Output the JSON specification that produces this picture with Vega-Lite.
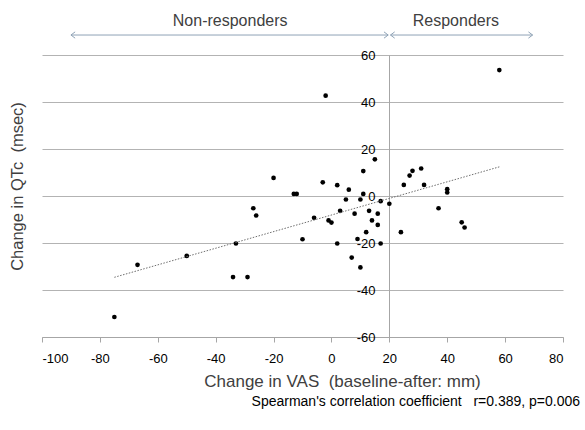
{
  "$schema": "https://vega.github.io/schema/vega-lite/v6.json",
  "width": 521,
  "height": 282,
  "autosize": {"type": "none"},
  "padding": {"left": 42, "top": 55, "right": 22, "bottom": 93},
  "background": "white",
  "config": {
    "view": {"stroke": null},
    "font": "Liberation Sans"
  },
  "datasets": {
    "points": [
      {"vas": -75, "qtc": -51.5},
      {"vas": -67, "qtc": -29.3},
      {"vas": -50, "qtc": -25.5},
      {"vas": -33, "qtc": -20.2},
      {"vas": -34, "qtc": -34.5},
      {"vas": -29, "qtc": -34.5},
      {"vas": -20, "qtc": 7.7},
      {"vas": -13, "qtc": 0.9},
      {"vas": -12, "qtc": 0.9},
      {"vas": -27, "qtc": -5.2},
      {"vas": -26, "qtc": -8.3},
      {"vas": -2, "qtc": 42.7},
      {"vas": 58, "qtc": 53.6},
      {"vas": 15, "qtc": 15.6},
      {"vas": 11, "qtc": 10.6},
      {"vas": -3, "qtc": 5.8},
      {"vas": 2, "qtc": 4.6},
      {"vas": 6, "qtc": 2.7},
      {"vas": 5, "qtc": -1.5},
      {"vas": 10, "qtc": -1.5},
      {"vas": 11, "qtc": 0.9},
      {"vas": 17, "qtc": -2.2},
      {"vas": 20, "qtc": -3.3},
      {"vas": 25, "qtc": 4.7},
      {"vas": 27, "qtc": 8.7},
      {"vas": 28, "qtc": 10.7},
      {"vas": 31, "qtc": 11.7},
      {"vas": 32, "qtc": 4.7},
      {"vas": 40, "qtc": 2.9},
      {"vas": 40, "qtc": 1.5},
      {"vas": 37, "qtc": -5.2},
      {"vas": 45, "qtc": -11.2},
      {"vas": 46, "qtc": -13.4},
      {"vas": 24, "qtc": -15.4},
      {"vas": -6, "qtc": -9.3},
      {"vas": -1, "qtc": -10.4},
      {"vas": 0, "qtc": -11.3},
      {"vas": 3, "qtc": -6.3},
      {"vas": 8, "qtc": -7.5},
      {"vas": 13, "qtc": -6.3},
      {"vas": 16, "qtc": -7.5},
      {"vas": 14, "qtc": -10.4},
      {"vas": 16, "qtc": -12.3},
      {"vas": 12, "qtc": -15.4},
      {"vas": 9, "qtc": -18.3},
      {"vas": -10, "qtc": -18.4},
      {"vas": 2, "qtc": -20.2},
      {"vas": 17, "qtc": -20.2},
      {"vas": 7, "qtc": -26.2},
      {"vas": 10, "qtc": -30.4}
    ],
    "trend": [
      {"vas": -75, "qtc": -34.6},
      {"vas": 58, "qtc": 12.4}
    ],
    "arrows": [
      {"vas": -90, "vas2": 19.6, "qtc": 68.5},
      {"vas": 20.4, "vas2": 69.5, "qtc": 68.5}
    ],
    "heads": [
      {"vas": -90, "qtc": 68.5, "dir": "left"},
      {"vas": 19.6, "qtc": 68.5, "dir": "right"},
      {"vas": 20.4, "qtc": 68.5, "dir": "left"},
      {"vas": 69.5, "qtc": 68.5, "dir": "right"}
    ],
    "groups": [
      {"vas": -35, "qtc": 74.5, "label": "Non-responders"},
      {"vas": 43, "qtc": 74.5, "label": "Responders"}
    ],
    "note": [
      {"vas": 85.9, "qtc": -87.7, "label": "Spearman's correlation coefficient \u00a0 r=0.389, p=0.006"}
    ]
  },
  "layer": [
    {
      "data": {"name": "points"},
      "mark": {"type": "circle", "size": 22, "color": "black", "opacity": 1},
      "encoding": {
        "x": {
          "field": "vas", "type": "quantitative",
          "scale": {"domain": [-100, 80], "nice": false, "zero": false},
          "axis": {
            "orient": "bottom",
            "values": [-100, -80, -60, -40, -20, 0, 20, 40, 60, 80],
            "labelExpr": "'' + datum.value",
            "grid": false,
            "domainColor": "#a6a6a6",
            "tickColor": "#a6a6a6",
            "tickSize": 5,
            "labelFontSize": 13,
            "labelColor": "#000000",
            "labelPadding": 10,
            "title": "Change in VAS \u00a0(baseline-after: mm)",
            "titleFontSize": 17,
            "titleFontWeight": "normal",
            "titleColor": "#404040",
            "titlePadding": 8,
            "titleX": 300
          }
        },
        "y": {
          "field": "qtc", "type": "quantitative",
          "scale": {"domain": [-60, 60], "nice": false, "zero": false},
          "axis": {
            "orient": "left",
            "offset": -347,
            "values": [-60, -40, -20, 0, 20, 40, 60],
            "labelExpr": "'' + datum.value",
            "grid": true,
            "gridColor": "#b3b3b3",
            "domainColor": "#a6a6a6",
            "ticks": false,
            "labelFontSize": 13,
            "labelColor": "#000000",
            "labelPadding": 14,
            "title": "Change in QTc \u00a0(msec)",
            "titleFontSize": 16.5,
            "titleFontWeight": "normal",
            "titleColor": "#404040",
            "titleAngle": -90,
            "titleBaseline": "middle",
            "titleAlign": "center",
            "titleX": -372,
            "titleY": 131
          }
        }
      }
    },
    {
      "data": {"name": "trend"},
      "mark": {"type": "line", "color": "#6e6e6e", "strokeWidth": 1, "strokeDash": [1.5, 1.5]},
      "encoding": {
        "x": {"field": "vas", "type": "quantitative"},
        "y": {"field": "qtc", "type": "quantitative"}
      }
    },
    {
      "data": {"name": "arrows"},
      "mark": {"type": "rule", "color": "#8fa3b6", "strokeWidth": 1},
      "encoding": {
        "x": {"field": "vas", "type": "quantitative"},
        "x2": {"field": "vas2"},
        "y": {"field": "qtc", "type": "quantitative"}
      }
    },
    {
      "data": {"name": "heads"},
      "mark": {"type": "point", "filled": false, "size": 70, "strokeWidth": 1, "color": "#8fa3b6", "opacity": 1},
      "encoding": {
        "x": {"field": "vas", "type": "quantitative"},
        "y": {"field": "qtc", "type": "quantitative"},
        "shape": {
          "field": "dir", "type": "nominal",
          "scale": {"domain": ["left", "right"], "range": ["M1,-0.75L0,0L1,0.75", "M-1,-0.75L0,0L-1,0.75"]},
          "legend": null
        }
      }
    },
    {
      "data": {"name": "groups"},
      "mark": {"type": "text", "fontSize": 16, "color": "#404040", "align": "center", "baseline": "middle"},
      "encoding": {
        "x": {"field": "vas", "type": "quantitative"},
        "y": {"field": "qtc", "type": "quantitative"},
        "text": {"field": "label"}
      }
    },
    {
      "data": {"name": "note"},
      "mark": {"type": "text", "fontSize": 14, "color": "#000000", "align": "right", "baseline": "middle"},
      "encoding": {
        "x": {"field": "vas", "type": "quantitative"},
        "y": {"field": "qtc", "type": "quantitative"},
        "text": {"field": "label"}
      }
    }
  ]
}
